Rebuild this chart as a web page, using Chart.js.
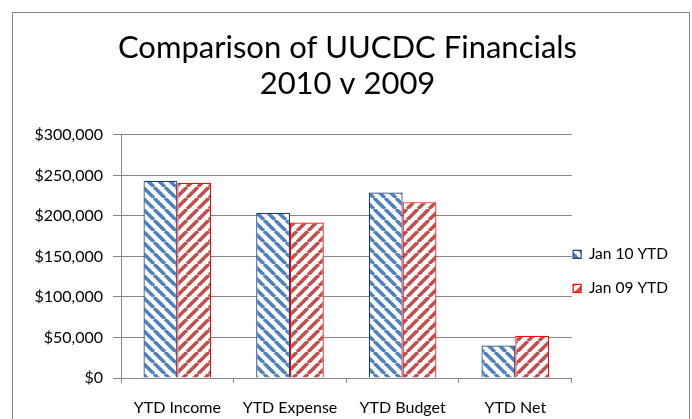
<!DOCTYPE html>
<html>
<head>
<meta charset="utf-8">
<script src="https://cdn.jsdelivr.net/npm/chart.js@4.4.0/dist/chart.umd.min.js"></script>
<style>
  html, body { margin: 0; padding: 0; background: #fff; }
  #wrap { width: 692px; height: 419px; }
</style>
</head>
<body>
<div id="wrap"><canvas id="myChart" width="692" height="419"></canvas></div>
<script>
const categories = ['YTD Income', 'YTD Expense', 'YTD Budget', 'YTD Net'];
const seriesNames = ['Jan 10 YTD', 'Jan 09 YTD'];
const jan10 = [243500, 204000, 229000, 40000];
const jan09 = [241000, 192000, 217000, 52000];
const titleLines = ['Comparison of UUCDC Financials', '2010 v 2009'];

const FONT = 'Lato, "Open Sans", sans-serif';

// striped fill, like the excel pattern
const stripes = (color, forward) => {
    const s = 11;
    const c = document.createElement('canvas');
    c.width = s; c.height = s;
    const g = c.getContext('2d');
    g.fillStyle = '#fff';
    g.fillRect(0, 0, s, s);
    g.strokeStyle = color;
    g.lineWidth = 3.6;
    g.beginPath();
    for (let k = -1; k <= 1; k++) {
        if (forward) {
            g.moveTo(k * s, s); g.lineTo(k * s + s, 0);
        } else {
            g.moveTo(k * s, 0); g.lineTo(k * s + s, s);
        }
    }
    g.stroke();
    return g.createPattern(c, 'repeat');
};

const frame = {
    id: 'frame',
    afterLayout(chart) {
        // move legend next to the plot like the original
        const lg = chart.legend;
        lg.left -= 17; lg.right -= 17;
        lg.top += 15; lg.bottom += 15;
    },
    beforeDraw(chart) {
        const ctx = chart.ctx;
        ctx.save();
        ctx.strokeStyle = '#868686';
        ctx.lineWidth = 1;
        ctx.strokeRect(12.5, 12.5, 677, 420);
        ctx.restore();
    }
};

const data = {
    labels: categories,
    datasets: [{
        label: seriesNames[0],
        data: jan10,
        backgroundColor: stripes('#4F81BD', false),
        borderColor: '#1F3A78',
        borderWidth: 1.2
    }, {
        label: seriesNames[1],
        data: jan09,
        backgroundColor: stripes('#C0504D', true),
        borderColor: '#FF0000',
        borderWidth: 1.2
    }]
};

const conf = {
    type: 'bar',
    data,
    plugins: [frame],
    options: {
        responsive: false,
        animation: false,
        categoryPercentage: 0.6,
        barPercentage: 1,
        layout: { padding: { left: 0, right: -3, top: 0, bottom: 0 } },
        plugins: {
            title: {
                display: true,
                text: titleLines,
                color: '#000',
                font: { family: FONT, size: 31, weight: 'normal', lineHeight: 1.16 },
                padding: { top: 30, bottom: 33 }
            },
            legend: {
                position: 'right',
                fullSize: false,
                labels: {
                    boxWidth: 8,
                    boxHeight: 8,
                    padding: 18.5,
                    color: '#000',
                    font: { family: FONT, size: 15.5 }
                }
            },
            tooltip: { enabled: false }
        },
        scales: {
            x: {
                grid: {
                    display: true,
                    drawOnChartArea: false,
                    tickLength: 5,
                    color: '#868686',
                    offset: true
                },
                border: { color: '#868686' },
                ticks: {
                    color: '#000',
                    padding: 15,
                    font: { family: FONT, size: 16 }
                },
                afterFit: (scale) => { scale.height = 41; }
            },
            y: {
                min: 0,
                max: 300000,
                grid: { color: '#868686', tickLength: 8 },
                border: { color: '#868686' },
                ticks: {
                    stepSize: 50000,
                    color: '#000',
                    padding: 10,
                    font: { family: FONT, size: 16 },
                    callback: (v) => '$' + v.toLocaleString('en-US')
                },
                afterFit: (scale) => { scale.width = 121; }
            }
        }
    }
};

const myChart = new Chart(document.getElementById('myChart'), conf);
</script>
</body>
</html>
